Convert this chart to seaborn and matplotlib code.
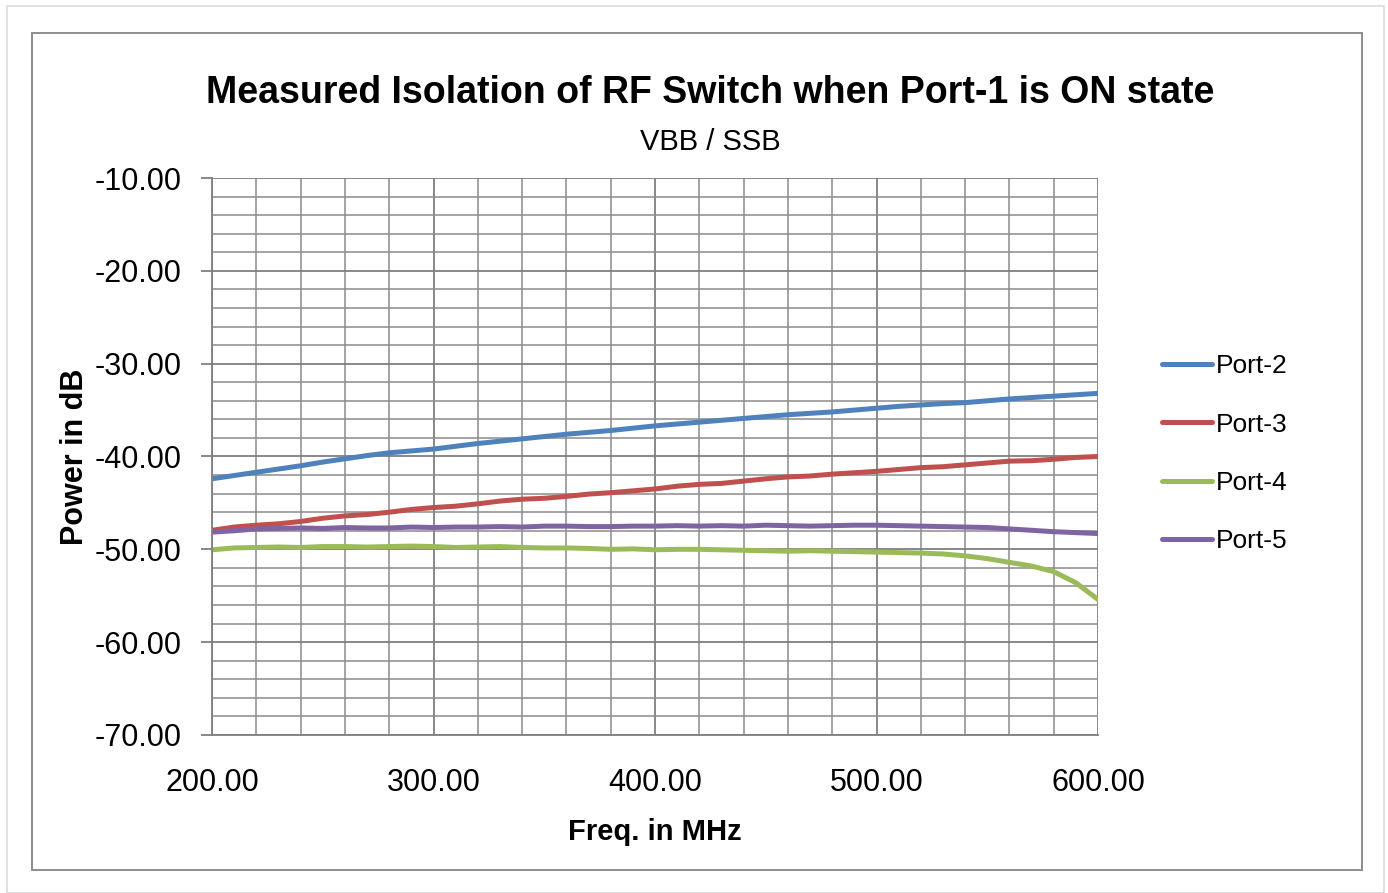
import matplotlib
matplotlib.use("Agg")
import matplotlib.pyplot as plt
from matplotlib.patches import Rectangle
from matplotlib.ticker import MultipleLocator, FormatStrFormatter
import pandas as pd
import seaborn as sns

# frequency points (MHz)
freq = [200, 210, 220, 230, 240, 250, 260, 270, 280, 290, 300,
        310, 320, 330, 340, 350, 360, 370, 380, 390, 400,
        410, 420, 430, 440, 450, 460, 470, 480, 490, 500,
        510, 520, 530, 540, 550, 560, 570, 580, 590, 600]

# isolation per port (dB)
port2 = [-42.4, -42.05, -41.7, -41.35, -41.0, -40.6, -40.25, -39.9, -39.6, -39.4, -39.2,
         -38.9, -38.6, -38.35, -38.1, -37.85, -37.6, -37.4, -37.2, -36.95, -36.7,
         -36.5, -36.3, -36.1, -35.9, -35.7, -35.5, -35.35, -35.2, -35.0, -34.8,
         -34.6, -34.45, -34.3, -34.2, -34.0, -33.8, -33.65, -33.5, -33.35, -33.2]
port3 = [-47.95, -47.6, -47.4, -47.25, -47.0, -46.65, -46.4, -46.25, -46.0, -45.7, -45.5,
         -45.35, -45.1, -44.8, -44.6, -44.5, -44.3, -44.05, -43.9, -43.7, -43.5,
         -43.2, -43.0, -42.9, -42.65, -42.4, -42.2, -42.1, -41.9, -41.75, -41.6,
         -41.4, -41.2, -41.1, -40.9, -40.7, -40.5, -40.45, -40.3, -40.1, -40.0]
port4 = [-50.05, -49.85, -49.8, -49.75, -49.8, -49.7, -49.7, -49.75, -49.7, -49.65, -49.7,
         -49.8, -49.75, -49.7, -49.8, -49.85, -49.85, -49.9, -50.0, -49.95, -50.05,
         -50.0, -50.0, -50.05, -50.1, -50.15, -50.2, -50.15, -50.2, -50.25, -50.3,
         -50.35, -50.4, -50.5, -50.7, -51.0, -51.4, -51.8, -52.4, -53.6, -55.4]
port5 = [-48.15, -48.0, -47.8, -47.75, -47.7, -47.75, -47.65, -47.7, -47.7, -47.6, -47.65,
         -47.6, -47.6, -47.55, -47.6, -47.5, -47.5, -47.55, -47.55, -47.5, -47.5,
         -47.45, -47.5, -47.45, -47.5, -47.4, -47.45, -47.5, -47.45, -47.4, -47.4,
         -47.45, -47.5, -47.55, -47.6, -47.65, -47.8, -47.95, -48.1, -48.2, -48.3]

ports = ["Port-2", "Port-3", "Port-4", "Port-5"]
colors = {"Port-2": "#4F81BD", "Port-3": "#C0504D", "Port-4": "#9BBB59", "Port-5": "#8064A2"}

df = pd.DataFrame({"freq": freq, "Port-2": port2, "Port-3": port3,
                   "Port-4": port4, "Port-5": port5})
long_df = df.melt(id_vars="freq", var_name="port", value_name="power")

sns.set_style("white")
plt.rcParams["font.family"] = ["Liberation Sans", "DejaVu Sans"]
plt.rcParams["text.color"] = "black"
plt.rcParams["axes.labelcolor"] = "black"
plt.rcParams["xtick.color"] = "black"
plt.rcParams["ytick.color"] = "black"

fig = plt.figure(figsize=(13.88, 8.93), dpi=100)
ax = fig.add_axes([212 / 1388, 1 - 735 / 893, (1098 - 212) / 1388, (735 - 178) / 893])

sns.lineplot(data=long_df, x="freq", y="power", hue="port", hue_order=ports,
             palette=colors, linewidth=3.6, ax=ax, sort=False)

ax.set_xlim(200, 600)
ax.set_ylim(-70, -10)
ax.xaxis.set_major_locator(MultipleLocator(100))
ax.xaxis.set_minor_locator(MultipleLocator(20))
ax.yaxis.set_major_locator(MultipleLocator(10))
ax.yaxis.set_minor_locator(MultipleLocator(2))
ax.xaxis.set_major_formatter(FormatStrFormatter("%.2f"))
ax.yaxis.set_major_formatter(FormatStrFormatter("%.2f"))

ax.grid(True, which="major", color="#7f7f7f", linewidth=1.3)
ax.grid(True, which="minor", color="#8c8c8c", linewidth=1.1)
ax.set_axisbelow(True)
for side in ["top", "right"]:
    ax.spines[side].set_visible(False)
for side in ["left", "bottom"]:
    ax.spines[side].set_color("#7f7f7f")
    ax.spines[side].set_linewidth(1.3)

ax.tick_params(axis="y", which="major", direction="out", length=8, width=1.3,
               color="#7f7f7f", labelsize=22, pad=14, left=True)
ax.tick_params(axis="x", which="major", length=0, labelsize=22, pad=24)
ax.tick_params(which="minor", length=0)

ax.set_xlabel("Freq. in MHz", fontsize=21, fontweight="bold", labelpad=14)
ax.set_ylabel("Power in dB", fontsize=22, fontweight="bold", labelpad=3)

fig.text(710 / 1388, 1 - 93 / 893, "Measured Isolation of RF Switch when Port-1 is ON state",
         ha="center", va="center", fontsize=27, fontweight="bold")
fig.text(710 / 1388, 1 - 142 / 893, "VBB / SSB", ha="center", va="center", fontsize=21)

handles, labels = ax.get_legend_handles_labels()
ax.legend(handles, labels, loc="center left", bbox_to_anchor=(1.045, 0.505),
          frameon=False, fontsize=19, handlelength=1.9, handletextpad=0.15,
          labelspacing=1.3)

# chart-area borders
fig.patches.append(Rectangle((32 / 1388, 1 - 870 / 893), (1362 - 32) / 1388, (870 - 33) / 893,
                             transform=fig.transFigure, fill=False, ec="#8c8c8c", lw=1.4))
fig.patches.append(Rectangle((7 / 1388, 0.0), (1384 - 7) / 1388, 1 - 6 / 893,
                             transform=fig.transFigure, fill=False, ec="#dcdcdc", lw=1.2))

fig.savefig("out.png", dpi=100, facecolor="white")
